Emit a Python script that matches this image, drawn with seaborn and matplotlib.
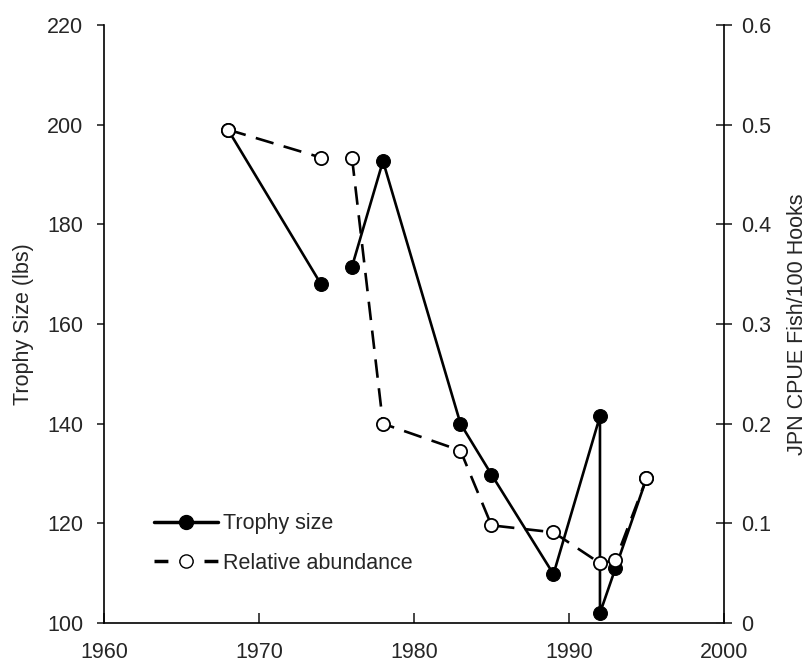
import numpy as np
import pandas as pd
import matplotlib
matplotlib.use("Agg")
import matplotlib.pyplot as plt
from matplotlib.lines import Line2D
import seaborn as sns

sns.set_theme(style="ticks")
plt.rcParams['font.family'] = ['Liberation Sans', 'DejaVu Sans']

# Trophy size (lbs), left axis
trophy_year = [1968, 1974, 1976, 1978, 1983, 1985, 1989, 1992, 1992, 1993, 1995]
trophy_size = [199, 168, 171.5, 192.7, 140, 129.8, 109.8, 141.5, 102, 111, 129]
trophy_seg = [0, 0, 1, 1, 1, 1, 1, 1, 1, 1, 1]

# Relative abundance (JPN CPUE fish/100 hooks), right axis
abund_year = [1968, 1974, 1976, 1978, 1983, 1985, 1989, 1992, 1993, 1995]
abund_cpue = [0.495, 0.467, 0.467, 0.200, 0.173, 0.098, 0.091, 0.060, 0.063, 0.145]
abund_seg = [0, 0, 1, 1, 1, 1, 1, 1, 1, 1]

x_ticks = [1960, 1970, 1980, 1990, 2000]
left_ticks = [100, 120, 140, 160, 180, 200, 220]
right_ticks = [0, 0.1, 0.2, 0.3, 0.4, 0.5, 0.6]
right_labels = ["0", "0.1", "0.2", "0.3", "0.4", "0.5", "0.6"]

df_t = pd.DataFrame({"year": trophy_year, "size": trophy_size, "seg": trophy_seg})
df_a = pd.DataFrame({"year": abund_year, "cpue": abund_cpue, "seg": abund_seg})

fig = plt.figure(figsize=(8.08, 6.63), dpi=100)
ax = fig.add_axes([0.1287, 0.0603, 0.7673, 0.902])
ax2 = ax.twinx()

lw = 1.9
sns.lineplot(data=df_t, x="year", y="size", units="seg", estimator=None, sort=False,
             ax=ax, color="black", linewidth=lw, marker="o", markersize=10,
             markerfacecolor="black", markeredgecolor="black", legend=False)
sns.lineplot(data=df_a, x="year", y="cpue", units="seg", estimator=None, sort=False,
             ax=ax2, color="black", linewidth=lw, linestyle=(0, (7, 4)), marker="o",
             markersize=9.5, markerfacecolor="white", markeredgecolor="black",
             markeredgewidth=1.3, legend=False)

ax.set_xlim(1960, 2000)
ax.set_ylim(100, 220)
ax2.set_ylim(0, 0.6)
ax.set_xticks(x_ticks)
ax.set_xticklabels([str(v) for v in x_ticks])
ax.set_yticks(left_ticks)
ax2.set_yticks(right_ticks)
ax2.set_yticklabels(right_labels)

ax.set_xlabel("")
ax.set_ylabel("Trophy Size (lbs)", fontsize=15.5, labelpad=9)
ax2.set_ylabel("JPN CPUE Fish/100 Hooks", fontsize=15.5, labelpad=12)

for a in (ax, ax2):
    a.spines["top"].set_visible(False)
    for s in a.spines.values():
        s.set_linewidth(1.2)
        s.set_color("black")
ax.spines["right"].set_visible(False)
ax2.spines["left"].set_visible(False)
ax2.spines["bottom"].set_visible(False)

ax.tick_params(axis="y", direction="out", length=5, width=1.2, labelsize=15.5, pad=10)
ax.tick_params(axis="x", direction="in", length=7, width=1.2, labelsize=15.5, pad=14)
ax2.tick_params(axis="y", direction="inout", length=12, width=1.2, labelsize=15.5, pad=6)

handles = [
    Line2D([0], [0], color="black", linewidth=2.5, marker="o", markersize=10,
           markerfacecolor="black", markeredgecolor="black"),
    Line2D([0], [0], color="black", linewidth=2.5, linestyle=(0, (4, 3.2)), marker="o",
           markersize=9.5, markerfacecolor="white", markeredgecolor="black"),
]
ax.legend(handles, ["Trophy size", "Relative abundance"], loc="lower left",
          bbox_to_anchor=(0.05, 0.05), frameon=False, fontsize=15.5,
          handlelength=2.95, handletextpad=0.25, labelspacing=0.85)

fig.savefig("out.png", dpi=100)
